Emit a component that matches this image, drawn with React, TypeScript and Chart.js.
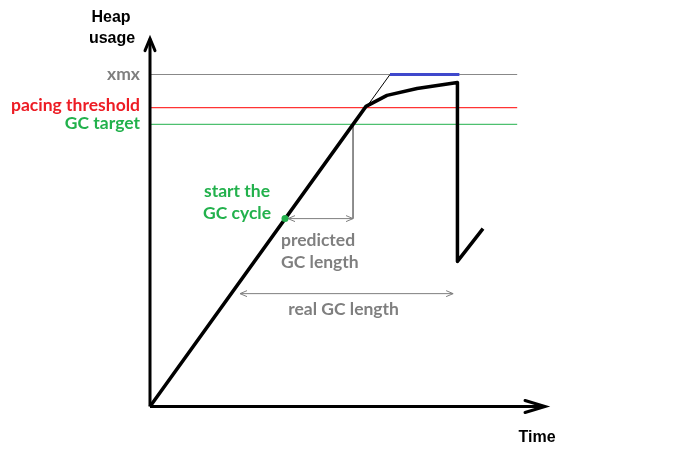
import React, { useEffect, useRef } from "react";
import { Chart, registerables } from "chart.js";

Chart.register(...registerables);

// Heap levels (% of xmx)
const xmxLevel = 100;
const pacingThreshold = 90;
const gcTarget = 85;

// Heap usage curve (time, heap)
const heapTime = [0, 90, 98.75, 111.25, 128.1, 128.1, 138.75];
const heapUsage = [0, 90.4, 93.7, 95.8, 97.6, 43.7, 53.6];

// Linear projection past the pacing threshold
const projTime = [90, 100];
const projUsage = [90, 100];

// Heap capped at xmx (blue)
const capTime = [100, 128.9];

// GC cycle markers
const gcStartTime = 56.25;
const gcStartHeap = 56.6;
const predictedEndTime = 84.6;
const realStartTime = 37.5;
const realEndTime = 126.3;
const realArrowHeap = 34;

// Extents
const refLineEnd = 153;
const xAxisEnd = 164.6;
const yAxisEnd = 110.8;

const GRAY = "#7f7f7f";
const RED = "#ed1c24";
const GREEN = "#22b14c";
const BLUE = "#3f48cc";

const seg = (xs: number[], ys: number[]) => xs.map((x, i) => ({ x, y: ys[i] }));

const lineDs = (label: string, data: any[], color: string, width: number) => ({
  type: "line" as const,
  label,
  data,
  borderColor: color,
  backgroundColor: color,
  borderWidth: width,
  pointRadius: 0,
  fill: false,
  tension: 0,
  borderCapStyle: "butt" as const,
  borderJoinStyle: "round" as const,
});

const annot = {
  id: "annot",
  afterDatasetsDraw(chart: any) {
    const ctx = chart.ctx;
    const xs = chart.scales.x;
    const ys = chart.scales.y;
    const px = (v: number) => xs.getPixelForValue(v);
    const py = (v: number) => ys.getPixelForValue(v);
    ctx.save();

    // axis arrowheads
    ctx.strokeStyle = "#000";
    ctx.lineWidth = 3;
    ctx.lineCap = "round";
    ctx.lineJoin = "miter";
    const yTipX = px(0), yTipY = py(yAxisEnd);
    ctx.beginPath();
    ctx.moveTo(yTipX - 5, yTipY + 12);
    ctx.lineTo(yTipX, yTipY);
    ctx.lineTo(yTipX + 5, yTipY + 12);
    ctx.stroke();
    const xTipX = px(xAxisEnd), xTipY = py(0);
    ctx.beginPath();
    ctx.moveTo(xTipX - 20, xTipY - 6);
    ctx.lineTo(xTipX, xTipY);
    ctx.lineTo(xTipX - 20, xTipY + 6);
    ctx.stroke();

    // dimension arrowheads
    ctx.strokeStyle = GRAY;
    ctx.lineWidth = 1;
    ctx.lineCap = "butt";
    const head = (x: number, y: number, dir: number) => {
      ctx.beginPath();
      ctx.moveTo(x + dir * 7, y - 3);
      ctx.lineTo(x, y);
      ctx.lineTo(x + dir * 7, y + 3);
      ctx.stroke();
    };
    head(px(gcStartTime) + 3, py(gcStartHeap), 1);
    head(px(predictedEndTime), py(gcStartHeap), -1);
    head(px(realStartTime), py(realArrowHeap), 1);
    head(px(realEndTime), py(realArrowHeap), -1);

    // start-of-GC dot
    ctx.fillStyle = GREEN;
    ctx.beginPath();
    ctx.arc(px(gcStartTime), py(gcStartHeap), 3.5, 0, Math.PI * 2);
    ctx.fill();

    // texts
    const txt = (s: string, x: number, y: number, color: string, align: CanvasTextAlign, font: string) => {
      ctx.fillStyle = color;
      ctx.textAlign = align;
      ctx.textBaseline = "middle";
      ctx.font = font;
      ctx.fillText(s, x, y);
    };
    const lbl = "bold 17.5px Lato, 'Open Sans', sans-serif";
    const ax = "bold 16px 'Liberation Sans', Arial, sans-serif";
    txt("Heap", px(0) - 39, 18, "#000", "center", ax);
    txt("usage", px(0) - 38, 39, "#000", "center", ax);
    txt("Time", px(xAxisEnd) - 8, py(0) + 31, "#000", "center", ax);
    txt("xmx", px(0) - 10, py(xmxLevel), GRAY, "right", lbl);
    txt("pacing threshold", px(0) - 10, py(pacingThreshold) - 2, RED, "right", lbl);
    txt("GC target", px(0) - 10, py(gcTarget) - 1, GREEN, "right", lbl);
    txt("start the", px(gcStartTime) - 48, py(gcStartHeap) - 27, GREEN, "center", lbl);
    txt("GC cycle", px(gcStartTime) - 48, py(gcStartHeap) - 5, GREEN, "center", lbl);
    txt("predicted", px(gcStartTime) - 4, py(gcStartHeap) + 22, GRAY, "left", lbl);
    txt("GC length", px(gcStartTime) - 4, py(gcStartHeap) + 44, GRAY, "left", lbl);
    txt("real GC length", (px(realStartTime) + px(realEndTime)) / 2 - 3, py(realArrowHeap) + 16, GRAY, "center", lbl);

    ctx.restore();
  },
};

export default function App() {
  const ref = useRef<HTMLCanvasElement | null>(null);
  useEffect(() => {
    if (!ref.current) return;
    const list: any[] = [
      lineDs("heap usage", seg(heapTime, heapUsage), "#000", 3.5),
      lineDs("x axis", seg([0, xAxisEnd], [0, 0]), "#000", 3),
      lineDs("y axis", seg([0, 0], [0, yAxisEnd]), "#000", 3),
      lineDs("real GC length", seg([realStartTime, realEndTime], [realArrowHeap, realArrowHeap]), GRAY, 1),
      lineDs("predicted GC length", seg([gcStartTime + 1, predictedEndTime], [gcStartHeap, gcStartHeap]), GRAY, 1),
      lineDs("predicted drop", seg([predictedEndTime, predictedEndTime], [gcTarget, gcStartHeap]), GRAY, 1),
      lineDs("capped", seg(capTime, [xmxLevel, xmxLevel]), BLUE, 3),
      lineDs("projection", seg(projTime, projUsage), "#000", 1),
      lineDs("GC target", seg([0, refLineEnd], [gcTarget, gcTarget]), GREEN, 1),
      lineDs("pacing threshold", seg([0, refLineEnd], [pacingThreshold, pacingThreshold]), "#ff0000", 1),
      lineDs("xmx", seg([0, refLineEnd], [xmxLevel, xmxLevel]), "#888888", 1),
    ];
    // first in list is drawn on top
    list.forEach((d, i) => (d.order = i));
    const chart = new Chart(ref.current, {
      type: "line",
      data: { datasets: list },
      options: {
        animation: false,
        responsive: false,
        layout: { padding: 0, autoPadding: false },
        plugins: { legend: { display: false }, tooltip: { enabled: false } },
        scales: {
          x: { type: "linear", display: false, min: -62.5, max: 221.25 },
          y: { type: "linear", display: false, min: -20.93, max: 122.44 },
        },
      },
      plugins: [annot],
    });
    return () => chart.destroy();
  }, []);
  return (
    <div style={{ position: "fixed", left: 0, top: 0, width: 681, height: 476, background: "#fff" }}>
      <canvas ref={ref} width={681} height={476} style={{ width: 681, height: 476 }} />
    </div>
  );
}
